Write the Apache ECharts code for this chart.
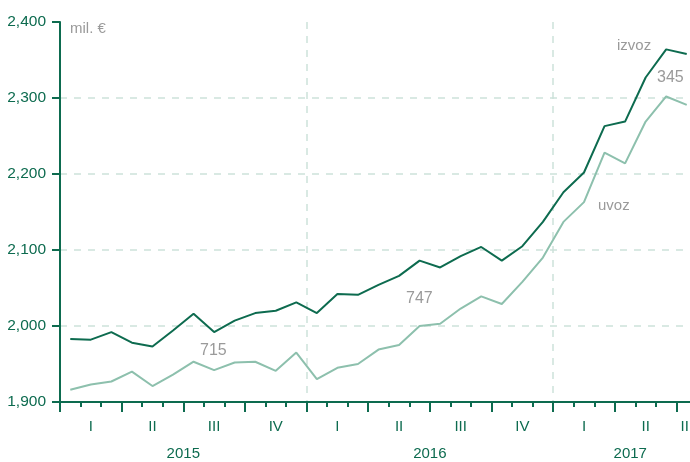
<!DOCTYPE html>
<html>
<head>
<meta charset="utf-8">
<script src="https://cdn.jsdelivr.net/npm/echarts@6/dist/echarts.min.js"></script>
<style>
  html, body { margin: 0; padding: 0; background: #fff; }
  #chart { width: 690px; height: 462px; }
</style>
</head>
<body>
<div id="chart"></div>
<script>
// mjeseci 2015-01 .. 2017-07
var months = [];
for (var y = 2015; y <= 2017; y++) {
    for (var m = 1; m <= 12; m++) {
        if (y === 2017 && m > 7) break;
        months.push(y + '-' + (m < 10 ? '0' + m : m));
    }
}

// izvoz (mil. €)
var izvoz = [
    1983, 1982, 1992, 1978, 1973, 1994, 2016, 1992, 2007, 2017, 2020, 2031,
    2017, 2042, 2041, 2054, 2066, 2086, 2077, 2092, 2104, 2086, 2105, 2137,
    2176, 2202, 2263, 2269, 2327, 2364, 2358
];
// uvoz (mil. €)
var uvoz = [
    1916, 1923, 1927, 1940, 1921, 1936, 1953, 1942, 1952, 1953, 1941, 1965,
    1930, 1945, 1950, 1969, 1975, 2000, 2003, 2023, 2039, 2029, 2058, 2090,
    2137, 2163, 2228, 2214, 2269, 2302, 2291
];

// oznake kvartala (na srednjem mjesecu kvartala)
var quarterLabels = {1: 'I', 4: 'II', 7: 'III', 10: 'IV', 13: 'I', 16: 'II', 19: 'III', 22: 'IV', 25: 'I', 28: 'II', 30: 'III'};
var yearLabels = {6: '2015', 18: '2016', 27.75: '2017'};

var dark = '#0d6b4f';
var light = '#8dc0ad';
var gridColor = '#cde2da';
var gray = '#9a9a9a';
var font = "'Liberation Sans Narrow', 'Liberation Sans', Arial, sans-serif";

var chart = echarts.init(document.getElementById('chart'));

var option = {
    animation: false,
    grid: { left: 60, width: 637, top: 22, bottom: 60, containLabel: false, outerBoundsMode: 'none' },
    xAxis: [
        {
            type: 'category',
            position: 'bottom',
            data: months,
            boundaryGap: true,
            axisLine: { lineStyle: { color: dark, width: 2 } },
            axisTick: { show: true, interval: 0, length: 5, lineStyle: { color: dark, width: 2 } },
            axisLabel: {
                interval: 0,
                margin: 17,
                color: dark,
                fontFamily: font,
                fontSize: 15,
                formatter: function (v, i) { return quarterLabels[i] || ''; }
            },
            splitLine: {
                show: true,
                interval: function (i) { return i === 12 || i === 24; },
                lineStyle: { color: gridColor, type: [7, 7], width: 1.5 }
            }
        },
        {
            // dulje crtice na granicama kvartala
            type: 'category',
            position: 'bottom',
            data: months,
            boundaryGap: true,
            axisLine: { show: false },
            axisTick: {
                show: true,
                length: 10,
                interval: function (i) { return i % 3 === 0; },
                lineStyle: { color: dark, width: 2 }
            },
            axisLabel: { show: false },
            splitLine: { show: false }
        },
        {
            // godine
            type: 'value',
            position: 'bottom',
            min: 0,
            max: 31,
            interval: 0.25,
            axisLine: { show: false },
            axisTick: { show: false },
            splitLine: { show: false },
            axisLabel: {
                margin: 44,
                color: dark,
                fontFamily: font,
                fontSize: 15,
                formatter: function (v) { return yearLabels[v] || ''; }
            }
        }
    ],
    yAxis: {
        type: 'value',
        min: 1900,
        max: 2400,
        interval: 100,
        axisLine: { show: true, lineStyle: { color: dark, width: 2 } },
        axisTick: { show: true, length: 8, lineStyle: { color: dark, width: 2 } },
        axisLabel: {
            margin: 14,
            color: dark,
            fontFamily: font,
            fontSize: 15.5,
            formatter: function (v) { return echarts.format.addCommas(v); }
        },
        splitLine: {
            show: true,
            showMinLine: false,
            showMaxLine: false,
            lineStyle: { color: gridColor, type: [7, 7], width: 1.5 }
        }
    },
    series: [
        {
            name: 'uvoz',
            type: 'line',
            data: uvoz,
            symbol: 'none',
            lineStyle: { color: light, width: 2 },
            z: 3
        },
        {
            name: 'izvoz',
            type: 'line',
            data: izvoz,
            symbol: 'none',
            lineStyle: { color: dark, width: 2 },
            z: 4
        }
    ],
    graphic: [
        { type: 'text', left: 70, top: 21, style: { text: 'mil. €', fill: gray, font: '15px ' + font } },
        { type: 'text', left: 200, top: 343, style: { text: '715', fill: gray, font: '16px ' + font } },
        { type: 'text', left: 406, top: 291, style: { text: '747', fill: gray, font: '16px ' + font } },
        { type: 'text', left: 617, top: 38, style: { text: 'izvoz', fill: gray, font: '15px ' + font } },
        { type: 'text', left: 657, top: 70, style: { text: '345', fill: gray, font: '16px ' + font } },
        { type: 'text', left: 598, top: 198, style: { text: 'uvoz', fill: gray, font: '15px ' + font } }
    ]
};

chart.setOption(option);
</script>
</body>
</html>
